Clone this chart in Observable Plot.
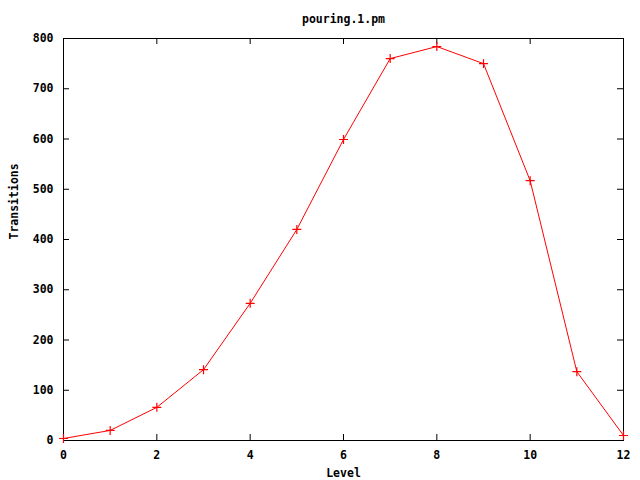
<!DOCTYPE html>
<html><head>
<meta charset="utf-8">
<script src="https://cdn.jsdelivr.net/npm/d3@7"></script>
<script src="https://cdn.jsdelivr.net/npm/@observablehq/plot@0.6"></script>
<style>body{margin:0;background:#fff}</style>
</head><body><div id="chart"></div>
<script>
const title = "pouring.1.pm";
const xLabel = "Level";
const yLabel = "Transitions";
const levels = [0, 1, 2, 3, 4, 5, 6, 7, 8, 9, 10, 11, 12];
const transitions = [4, 20, 66, 141, 273, 420, 599, 760, 784, 750, 517, 137, 10];
const xTicks = [0, 2, 4, 6, 8, 10, 12];
const yTicks = [0, 100, 200, 300, 400, 500, 600, 700, 800];

const data = levels.map((l, i) => ({level: l, transitions: transitions[i]}));
const font = "DejaVu Sans Mono";
const W = 640, H = 480, mL = 63, mR = 17, mT = 38, mB = 40, tick = 6;
const plotW = W - mL - mR, plotH = H - mT - mB;
const x0 = xTicks[0], x1 = xTicks[xTicks.length - 1];
const y0 = yTicks[0], y1 = yTicks[yTicks.length - 1];
const tx = (x1 - x0) * tick / plotW;   // tick length in x units
const ty = (y1 - y0) * tick / plotH;   // tick length in y units

const chart = Plot.plot({
  width: W, height: H,
  marginLeft: mL, marginRight: mR, marginTop: mT, marginBottom: mB,
  style: {fontFamily: font, fontSize: "11.5px", fontWeight: "bold", background: "#fff", color: "#000"},
  x: {domain: [x0, x1]},
  y: {domain: [y0, y1]},
  marks: [
    Plot.axisX({anchor: "bottom", ticks: xTicks, tickSize: 0, tickPadding: 10, label: null}),
    Plot.axisY({anchor: "left", ticks: yTicks, tickSize: 0, tickPadding: 10, label: null}),
    Plot.ruleX(xTicks, {x: d => d, y1: y0, y2: y0 + ty, stroke: "black"}),
    Plot.ruleX(xTicks, {x: d => d, y1: y1 - ty, y2: y1, stroke: "black"}),
    Plot.ruleY(yTicks, {y: d => d, x1: x0, x2: x0 + tx, stroke: "black"}),
    Plot.ruleY(yTicks, {y: d => d, x1: x1 - tx, x2: x1, stroke: "black"}),
    Plot.frame({stroke: "black"}),
    Plot.line(data, {x: "level", y: "transitions", stroke: "red", strokeWidth: 1}),
    Plot.dot(data, {x: "level", y: "transitions", symbol: "plus", r: 3, stroke: "red", strokeWidth: 1.2}),
    Plot.text([title], {text: d => d, frameAnchor: "top", lineAnchor: "middle", dy: -19}),
    Plot.text([xLabel], {text: d => d, frameAnchor: "bottom", lineAnchor: "middle", dy: 33}),
    Plot.text([yLabel], {text: d => d, frameAnchor: "left", lineAnchor: "middle", dx: -49, rotate: -90})
  ]
});
document.getElementById("chart").appendChild(chart);
</script>
</body></html>
